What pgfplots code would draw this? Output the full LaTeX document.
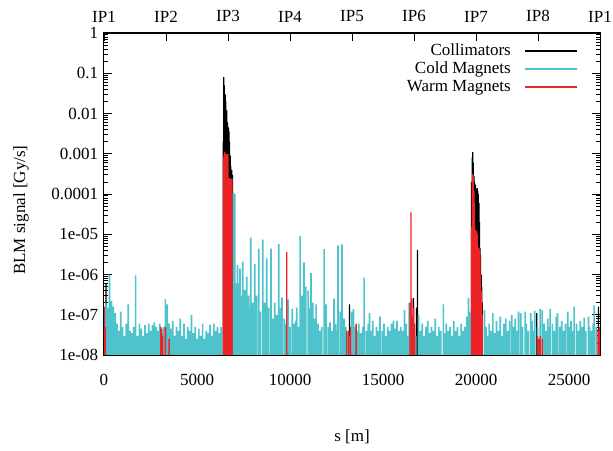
\documentclass[border=0pt]{standalone}
\usepackage{pgfplots}
\pgfplotsset{compat=1.18}
\usepackage{fontspec}
\setmainfont{Liberation Serif}
\definecolor{coldc}{RGB}{79,195,203}
\definecolor{warmc}{RGB}{236,34,39}
\begin{document}
\fontsize{17}{20}\selectfont
\begin{tikzpicture}
\path[use as bounding box] (-104pt,-95pt) rectangle (509pt,355pt);
\begin{axis}[
  at={(0,0)}, anchor=south west, scale only axis, width=496pt, height=322pt,
  xmin=0, xmax=26659, ymin=1e-8, ymax=1, ymode=log, log origin=infty,
  xtick={0,5000,10000,15000,20000,25000}, xticklabels={0,5000,10000,15000,20000,25000},
  scaled x ticks=false, xtick pos=left,
  ytick={1e-8,1e-7,1e-6,1e-5,1e-4,1e-3,1e-2,1e-1,1},
  yticklabels={1e-08,1e-07,1e-06,1e-05,0.0001,0.001,0.01,0.1,1},
  ytick pos=both, yticklabel pos=left,
  tick align=inside, major tick length=8pt, minor tick length=4pt,
  every tick/.style={black, line width=0.7pt},
  axis line style={line width=1pt},
  xticklabel style={yshift=-13pt},
  xlabel={s [m]}, ylabel={BLM signal [Gy/s]},
  every axis x label/.style={at={(axis description cs:0.5,0)}, yshift=-82pt, anchor=center},
  every axis y label/.style={at={(axis description cs:0,0.45)}, xshift=-83pt, rotate=90, anchor=center},
  legend style={at={(rel axis cs:1,1)}, anchor=north east, xshift=-20pt, yshift=-7pt,
    draw=none, fill=none, legend plot pos=right, cells={anchor=east}, column sep=13pt,
    nodes={inner sep=1pt, text height=12pt, text depth=4pt}},
]
% collimators
\addplot[ybar, bar shift=0pt, bar width=1.3pt, fill=black, draw=none,
  legend image code/.code={\fill[black] (0pt,-0.9pt) rectangle (52pt,0.9pt);}]
coordinates {
(110,5.8e-7)
(6410,2e-3) (6440,8e-2) (6465,5e-2) (6490,4e-3) (6510,3e-2) (6540,2e-2) (6570,5e-3)
(6600,1.2e-2) (6630,6e-3) (6660,3e-3) (6690,4.5e-3) (6720,3.6e-3) (6750,2e-3) (6780,9e-4)
(6810,5e-4) (6840,4e-4) (6870,4e-4) (6900,3e-4)
(13190,1.8e-7) (16640,2.6e-7) (16800,1.5e-7) (16846,4.1e-6)
(19760,2e-4) (19790,8e-4) (19820,1.1e-3) (19850,6e-4) (19880,2.8e-4) (19910,2e-4)
(19940,1.5e-4) (19970,1.7e-4) (20000,1.3e-4) (20030,1.2e-4) (20060,1.4e-4) (20090,1.2e-4)
(20120,1e-4) (20150,6e-5) (20180,2e-5) (20210,4.5e-6) (20240,3e-6) (20270,1e-6)
(20300,5e-7) (20330,2e-7)
(23260,1.1e-7) (26580,1.6e-7)
};
\addlegendentry{Collimators}
% cold magnets
\addplot[ybar, bar shift=0pt, bar width=1.7pt, fill=coldc, draw=none,
  legend image code/.code={\fill[coldc] (0pt,-0.9pt) rectangle (52pt,0.9pt);}]
coordinates {
(0,4e-8) (100,2e-7) (200,1.5e-7) (300,1e-6) (400,2.2e-7) (500,1.6e-7) (600,1.1e-7) (700,6e-8)
(800,4e-8) (900,1.2e-7) (1000,5e-8) (1100,3e-8) (1200,6e-8) (1300,1.8e-7) (1400,4e-8) (1500,3.5e-8)
(1600,5e-8) (1700,9.5e-7) (1800,3e-8) (1900,6e-8) (2000,4.5e-8) (2100,3e-8) (2200,5.5e-8) (2300,3.5e-8)
(2400,6e-8) (2500,4e-8) (2600,5.5e-8) (2700,6.5e-8) (2800,5e-8) (2900,4e-8) (3000,6e-8) (3100,3.5e-8)
(3200,5e-8) (3300,2.4e-7) (3400,1.8e-7) (3500,6e-8) (3600,4.5e-8) (3700,7e-8) (3800,3e-8) (3900,5e-8)
(4000,4e-8) (4100,8e-8) (4200,3e-8) (4300,6e-8) (4400,2.5e-8) (4500,5e-8) (4600,4e-8) (4700,1e-7)
(4800,3.5e-8) (4900,5e-8) (5000,2.5e-8) (5100,4.5e-8) (5200,3e-8) (5300,6e-8) (5400,2.5e-8) (5500,4e-8)
(5600,3.5e-8) (5700,5.5e-8) (5800,3e-8) (5900,6e-8) (6000,4e-8) (6100,5e-8) (6200,3.5e-8) (6300,5e-8)
(6950,1.1e-4) (7030,1e-4)
(7100,6e-7) (7170,1.7e-6) (7250,6e-7) (7310,1.4e-6) (7400,3e-7) (7455,2.1e-6) (7560,4.1e-7) (7670,8.9e-7)
(7770,3e-7) (7820,1.5e-7) (7890,8.3e-6) (8000,2e-7) (8100,1.8e-6) (8200,3e-7) (8315,4.4e-6) (8400,1.2e-7)
(8530,7.4e-6) (8640,2e-7) (8750,2.5e-6) (8860,1.5e-7) (8980,4.4e-6) (9080,8e-8) (9180,2e-7) (9290,1e-7)
(9390,5.8e-6) (9480,1.5e-7) (9570,2.7e-7) (9680,8e-8) (9760,6e-8) (9890,2.4e-7) (10000,5e-8) (10120,1.4e-7)
(10220,6e-8) (10300,7e-8) (10360,1.5e-7) (10450,5e-8) (10540,9e-6) (10640,3e-7) (10750,2e-6) (10850,5e-7)
(10970,4e-7) (11050,1.5e-7) (11130,1.1e-6) (11220,2e-7) (11300,8e-8) (11400,1.8e-7) (11500,6e-8) (11600,4e-8)
(11700,5e-8) (11830,4.3e-6) (11935,1.8e-7) (12050,5e-8) (12150,6.5e-8) (12250,4e-8) (12366,2.5e-7) (12460,6e-8)
(12520,4e-8) (12580,5.3e-6) (12690,1.2e-7) (12796,5.6e-6) (12900,8e-8) (13000,5e-8) (13100,4e-8) (13200,3e-8)
(13300,1.2e-7) (13405,1.4e-7) (13500,5e-8) (13600,4e-8) (13700,6e-8) (13800,3.5e-8) (13900,5e-8) (13980,8.4e-7)
(14100,4e-8) (14200,6e-8) (14265,1.1e-7) (14350,4e-8) (14446,7e-8) (14550,3e-8) (14650,5e-8) (14839,9e-8)
(14750,4e-8) (14950,4e-8) (15050,6e-8) (15150,3e-8) (15250,5e-8) (15350,4e-8) (15450,6e-8) (15556,7e-8)
(15650,4.5e-8) (15750,7e-8) (15850,4e-8) (15950,5e-8) (16050,4e-8) (16147,1.3e-7) (16250,6e-8) (16330,3e-8)
(16400,2e-7) (16560,4e-8) (16680,5e-8) (16760,3e-8) (16900,1e-7)
(17000,4e-8) (17100,6e-8) (17200,3e-8) (17300,5e-8) (17400,7e-8) (17500,3.5e-8) (17600,5e-8) (17700,4e-8)
(17800,8e-8) (17900,3e-8) (18000,5e-8) (18100,4e-8) (18240,1.8e-7) (18300,3.5e-8) (18400,6e-8) (18500,4e-8)
(18600,5e-8) (18700,3e-8) (18800,7e-8) (18900,4e-8) (19000,5e-8) (19100,3e-8) (19200,6e-8) (19300,4e-8)
(19400,5e-8) (19500,9e-8) (19590,2.6e-7) (19680,1.2e-7)
(20450,1.3e-7) (20530,5e-8) (20600,3e-8) (20700,6e-8) (20800,4e-8) (20900,1.1e-7) (21000,3.5e-8) (21100,7e-8)
(21200,4e-8) (21300,9e-8) (21400,3e-8) (21500,6e-8) (21600,8e-8) (21700,4e-8) (21800,7e-8) (21918,1e-7)
(22000,5e-8) (22100,8e-8) (22200,4e-8) (22276,1.2e-7) (22401,1.1e-7) (22500,5e-8) (22634,1.2e-7) (22700,6e-8)
(22800,4e-8) (22940,1.1e-7) (23000,7e-8) (23100,4e-8) (23155,1.25e-7) (23300,5e-8) (23440,1.4e-7) (23548,1.3e-7)
(23650,6e-8) (23750,4e-8) (23850,8e-8) (23900,5e-8) (23978,1.4e-7) (24100,6e-8) (24200,4e-8) (24300,9e-8)
(24373,1.1e-7) (24500,5e-8) (24600,7e-8) (24700,4e-8) (24800,6e-8) (24928,1.2e-7) (25000,5e-8) (25100,7e-8)
(25200,4e-8) (25269,1.6e-7) (25400,6e-8) (25500,4e-8) (25600,7e-8) (25700,5e-8) (25806,8.5e-8) (25900,4e-8)
(26040,9e-8) (26100,5e-8) (26200,4e-8) (26300,6e-8) (26344,1.7e-7) (26450,5e-8) (26600,4e-8)
};
\addlegendentry{Cold Magnets}
% warm magnets
\addplot[ybar, bar shift=0pt, bar width=1.3pt, fill=warmc, draw=none,
  legend image code/.code={\fill[warmc] (0pt,-0.9pt) rectangle (52pt,0.9pt);}]
coordinates {
(30,1.6e-7) (70,5e-8)
(3050,5e-8) (3100,4.5e-8) (3150,3e-8) (3300,5e-8) (3500,2.5e-8)
(6430,8e-4) (6460,1e-3) (6490,1.1e-3) (6520,1e-3) (6550,9e-4) (6580,1e-3) (6610,1e-3) (6640,9e-4)
(6670,1e-3) (6700,2.4e-4) (6730,2.5e-4) (6760,2.3e-4) (6790,2.4e-4) (6820,2.4e-4) (6850,2.2e-4) (6880,2.4e-4)
(9823,3.6e-6)
(13050,4e-8) (13150,4e-8) (13250,5e-8) (13550,6e-8)
(16450,2e-7) (16505,3.5e-5) (16550,2.5e-7) (16600,9e-8) (16650,1.5e-7) (16700,6e-8)
(19760,1.5e-5) (19790,2e-4) (19820,3.1e-4) (19850,2.8e-4) (19880,1.2e-4) (19910,6e-5) (19940,1.2e-5)
(19970,1.3e-5) (20000,1.1e-5) (20030,1.2e-5) (20060,1e-5) (20090,5e-6) (20120,4e-6) (20150,4.5e-6)
(20180,4e-6) (20210,3e-6) (20240,1e-6) (20270,4e-7) (20300,2e-7) (20330,1e-7)
(23300,3e-8) (23380,2.5e-8) (23450,3e-8) (23550,2.5e-8)
(26550,4e-8) (26620,5e-8)
};
\addlegendentry{Warm Magnets}
\end{axis}
\begin{axis}[
  at={(0,0)}, anchor=south west, scale only axis, width=496pt, height=322pt,
  xmin=0, xmax=26659, ymin=0, ymax=1,
  xtick={0,3332.4,6664.8,9997.1,13329.5,16661.9,19994.3,23326.6,26659},
  xticklabels={IP1,IP2,IP3,IP4,IP5,IP6,IP7,IP8,IP1},
  xtick pos=right, xticklabel pos=right, ytick=\empty,
  tick align=inside, major tick length=8pt,
  every tick/.style={black, line width=0.7pt},
  axis line style={line width=1pt},
  xticklabel style={yshift=5pt},
]
\end{axis}
\end{tikzpicture}
\end{document}
